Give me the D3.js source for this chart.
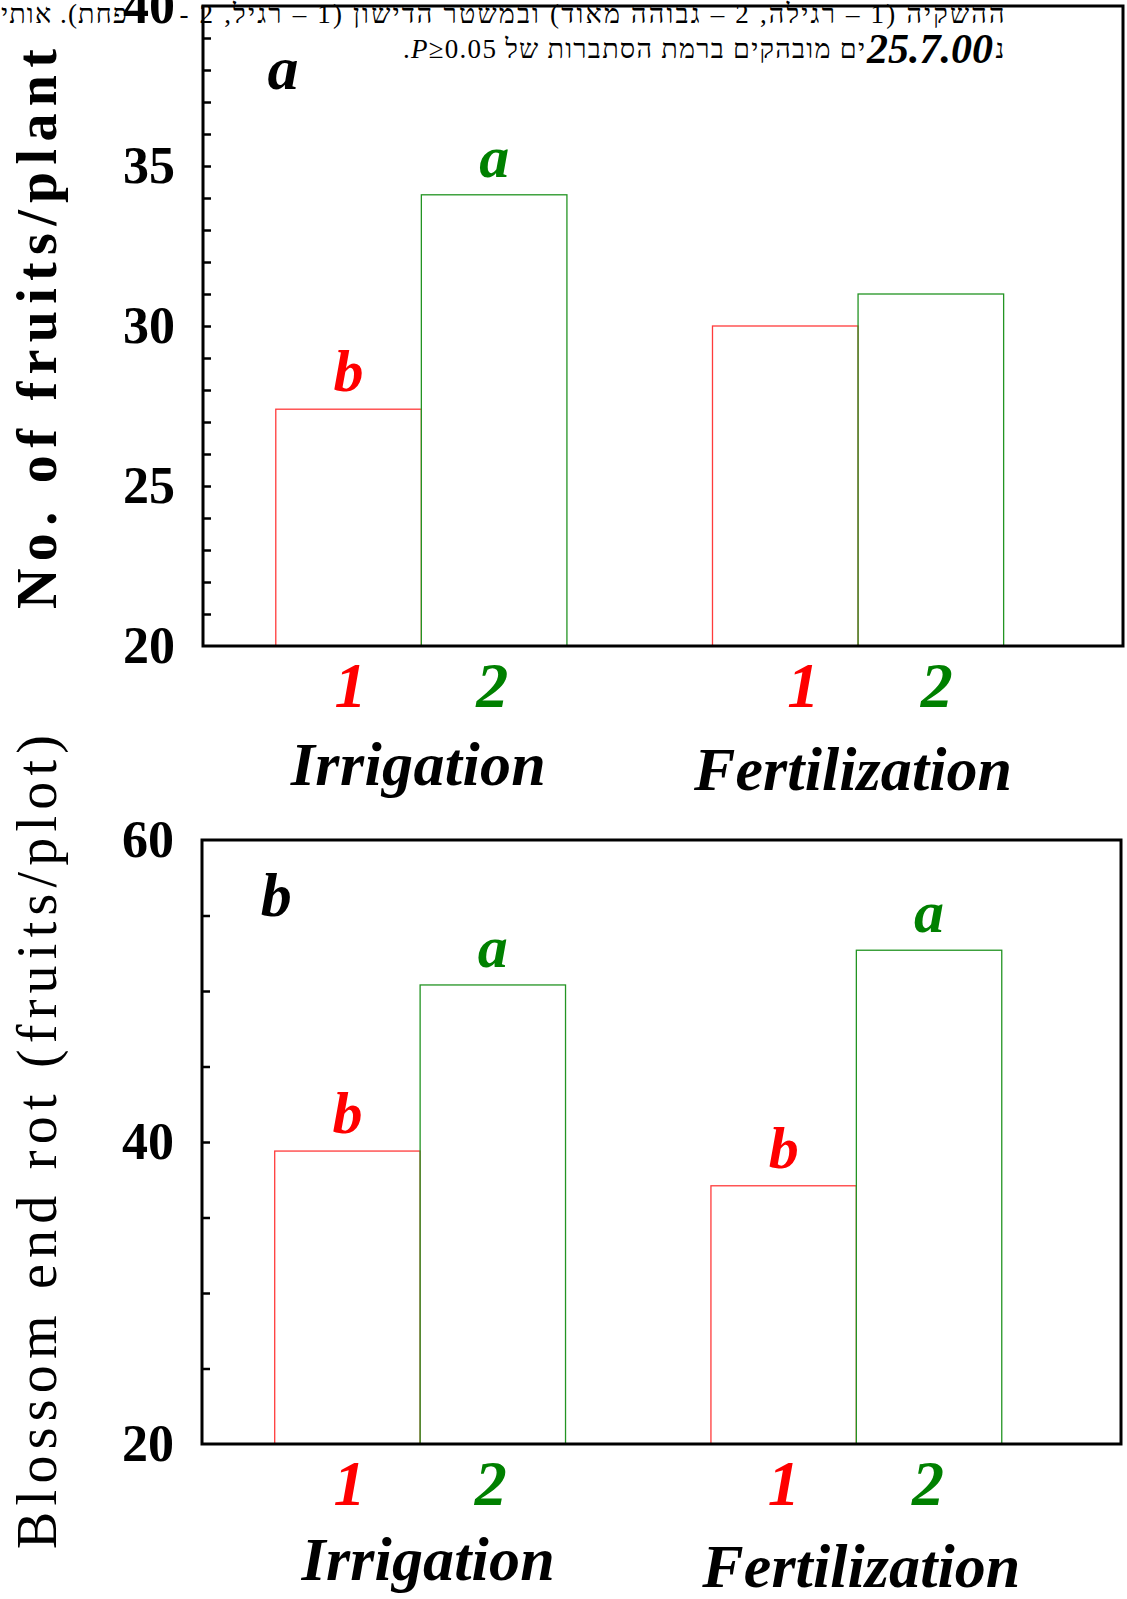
<!DOCTYPE html>
<html>
<head>
<meta charset="utf-8">
<script src="https://cdn.jsdelivr.net/npm/d3@7"></script>
<style>
  html, body { margin: 0; padding: 0; background: #fff; }
  svg { display: block; }
</style>
</head>
<body>
<svg id="chart" width="1127" height="1599"></svg>
<script>
// ---------------- DATA ----------------
const groups = ["Irrigation", "Fertilization"];
const treatments = ["1", "2"];

// Panel a: No. of fruits/plant
const fruitsIrrigation = [27.4, 34.1];
const fruitsFertilization = [30.0, 31.0];
const fruitsLettersIrrigation = ["b", "a"];
const fruitsLettersFertilization = ["", ""];
const fruitsTickLabels = [20, 25, 30, 35, 40];
const fruitsMinorTicks = d3.range(21, 40, 1);

// Panel b: Blossom end rot (fruits/plot)
const berIrrigation = [39.4, 50.4];
const berFertilization = [37.1, 52.7];
const berLettersIrrigation = ["b", "a"];
const berLettersFertilization = ["b", "a"];
const berTickLabels = [20, 40, 60];
const berMinorTicks = d3.range(25, 60, 5);

// Header text (scanned caption fragments)
const headerLine1a = "ההשקיה (1 – רגילה, 2 – גבוהה מאוד) ובמשטר הדישון (1 – רגיל, 2 -";
const headerLine1b = "פחת). אותי";
const headerLine2a = "נ";
const headerLine2date = "25.7.00";
const headerLine2b = "ים מובהקים ברמת הסתברות של ";
const headerLine2p = "P";
const headerLine2c = "≥0.05.";

// --------------- LAYOUT ---------------
const FONT = '"Liberation Serif", "Times New Roman", Tinos, serif';
const svg = d3.select("#chart").style("font-family", FONT);
const RED = "#ff0000", GREEN = "#008000";
const BAR_RED = "#ff3b3b", BAR_GREEN = "#239423";
const colors = [RED, GREEN];
const barColors = [BAR_RED, BAR_GREEN];

function txt(sel) { return sel.style("font-family", FONT); }

const panels = [
  {
    title: "No. of fruits/plant", titleWeight: "bold", titleX: 56, titleLen: 560, titleSize: 56, titleShift: 3,
    left: 203, right: 1123, top: 6, bottom: 646,
    domain: [20, 40], ticks: fruitsTickLabels, minor: fruitsMinorTicks,
    values: [fruitsIrrigation, fruitsFertilization],
    letters: [fruitsLettersIrrigation, fruitsLettersFertilization],
    panelLabel: "a", panelLabelPos: [0.05, 37.4],
    catBaseline: 707, catShift: [[2, -2], [18, 6]],
    groupBaseline: [785, 790],
    groupLen: [255, 318], groupShift: [-3, -5]
  },
  {
    title: "Blossom end rot (fruits/plot)", titleWeight: "normal", titleX: 56, titleLen: 814, titleSize: 56, titleShift: 0,
    left: 202, right: 1121, top: 840, bottom: 1444,
    domain: [20, 60], ticks: berTickLabels, minor: berMinorTicks,
    values: [berIrrigation, berFertilization],
    letters: [berLettersIrrigation, berLettersFertilization],
    panelLabel: "b", panelLabelPos: [0.01, 55.0],
    catBaseline: 1505, catShift: [[2, -2], [0, -1]],
    groupBaseline: [1580, 1587],
    groupLen: [253, 318], groupShift: [8, 5]
  }
];

panels.forEach(p => {
  const g = svg.append("g");
  // slot scale: each bar occupies one slot, groups separated by an empty slot
  const x = d3.scaleLinear().domain([-0.5, 5.82]).range([p.left, p.right]);
  const y = d3.scaleLinear().domain(p.domain).range([p.bottom, p.top]);
  const bw = x(1) - x(0);

  const bars = [];
  groups.forEach((grp, gi) => {
    treatments.forEach((t, ti) => {
      bars.push({ gi, ti, slot: gi * 3 + ti, value: p.values[gi][ti], letter: p.letters[gi][ti] });
    });
  });

  // bars (outlined)
  g.selectAll("rect.bar").data(bars).enter().append("rect")
    .attr("class", "bar")
    .attr("x", d => x(d.slot))
    .attr("y", d => y(d.value))
    .attr("width", bw)
    .attr("height", d => y(p.domain[0]) - y(d.value))
    .attr("fill", "none")
    .attr("stroke", d => barColors[d.ti])
    .attr("stroke-width", 1.3);

  // significance letters
  g.selectAll("text.sig").data(bars.filter(d => d.letter)).enter().append("text")
    .attr("class", "sig")
    .attr("x", d => x(d.slot + 0.5))
    .attr("y", d => y(d.value) - 18)
    .attr("text-anchor", "middle")
    .attr("font-size", 60).attr("font-weight", "bold").attr("font-style", "italic")
    .attr("fill", d => colors[d.ti])
    .style("font-family", FONT)
    .text(d => d.letter);

  // category numbers
  g.selectAll("text.cat").data(bars).enter().append("text")
    .attr("class", "cat")
    .attr("x", d => x(d.slot + 0.5) + p.catShift[d.gi][d.ti])
    .attr("y", p.catBaseline)
    .attr("text-anchor", "middle")
    .attr("font-size", 64).attr("font-weight", "bold").attr("font-style", "italic")
    .attr("fill", d => colors[d.ti])
    .style("font-family", FONT)
    .text(d => treatments[d.ti]);

  // group labels
  g.selectAll("text.grp").data(groups).enter().append("text")
    .attr("class", "grp")
    .attr("x", (d, i) => x(i * 3 + 1) + p.groupShift[i])
    .attr("y", (d, i) => p.groupBaseline[i])
    .attr("text-anchor", "middle")
    .attr("font-size", 62).attr("font-weight", "bold").attr("font-style", "italic")
    .attr("textLength", (d, i) => p.groupLen[i])
    .attr("lengthAdjust", "spacing")
    .attr("fill", "#000")
    .style("font-family", FONT)
    .text(d => d);

  // minor ticks (inward)
  const minorAxis = d3.axisRight(y).tickValues(p.minor).tickSize(8).tickFormat("");
  const ma = g.append("g").attr("transform", `translate(${p.left},0)`).call(minorAxis);
  ma.select(".domain").remove();
  ma.selectAll("line").attr("stroke", "#000").attr("stroke-width", 2.5);

  // tick labels
  const labelAxis = d3.axisLeft(y).tickValues(p.ticks).tickSize(0).tickPadding(28).tickFormat(d3.format("d"));
  const la = g.append("g").attr("transform", `translate(${p.left},0)`).call(labelAxis);
  la.select(".domain").remove();
  la.attr("font-family", null);
  la.selectAll("text")
    .style("font-family", FONT)
    .attr("font-size", 52).attr("font-weight", "bold").attr("fill", "#000");

  // frame
  g.append("rect")
    .attr("x", p.left).attr("y", p.top)
    .attr("width", p.right - p.left).attr("height", p.bottom - p.top)
    .attr("fill", "none").attr("stroke", "#000").attr("stroke-width", 3);

  // panel label
  g.append("text")
    .attr("x", x(p.panelLabelPos[0]))
    .attr("y", y(p.panelLabelPos[1]))
    .attr("text-anchor", "middle")
    .attr("font-size", 62).attr("font-weight", "bold").attr("font-style", "italic")
    .attr("fill", "#000")
    .style("font-family", FONT)
    .text(p.panelLabel);

  // y-axis title
  const cy = (p.top + p.bottom) / 2 + p.titleShift;
  g.append("text")
    .attr("transform", `translate(${p.titleX},${cy}) rotate(-90)`)
    .attr("text-anchor", "middle")
    .attr("font-size", p.titleSize).attr("font-weight", p.titleWeight)
    .attr("textLength", p.titleLen).attr("lengthAdjust", "spacing")
    .attr("fill", "#000")
    .style("font-family", FONT)
    .text(p.title);
});

// --------------- HEADER (caption fragments) ---------------
const hdr = svg.append("g").attr("fill", "#000");
txt(hdr.append("text"))
  .attr("x", 592).attr("y", 23)
  .attr("direction", "rtl").attr("text-anchor", "middle")
  .attr("font-size", 27)
  .attr("textLength", 825).attr("lengthAdjust", "spacing")
  .text(headerLine1a);
txt(hdr.append("text"))
  .attr("x", 64).attr("y", 23)
  .attr("direction", "rtl").attr("text-anchor", "middle")
  .attr("font-size", 27)
  .attr("textLength", 126).attr("lengthAdjust", "spacing")
  .text(headerLine1b);
txt(hdr.append("text"))
  .attr("x", 1000).attr("y", 58)
  .attr("text-anchor", "middle")
  .attr("font-size", 27)
  .text(headerLine2a);
txt(hdr.append("text"))
  .attr("x", 930).attr("y", 63)
  .attr("text-anchor", "middle")
  .attr("font-size", 42).attr("font-weight", "bold").attr("font-style", "italic")
  .text(headerLine2date);
const l2 = txt(hdr.append("text"))
  .attr("x", 634).attr("y", 58)
  .attr("direction", "rtl").attr("text-anchor", "middle")
  .attr("font-size", 27)
  .attr("textLength", 462).attr("lengthAdjust", "spacing");
l2.append("tspan").text(headerLine2b);
l2.append("tspan").attr("font-style", "italic").text(headerLine2p);
l2.append("tspan").text(headerLine2c);
</script>
</body>
</html>
